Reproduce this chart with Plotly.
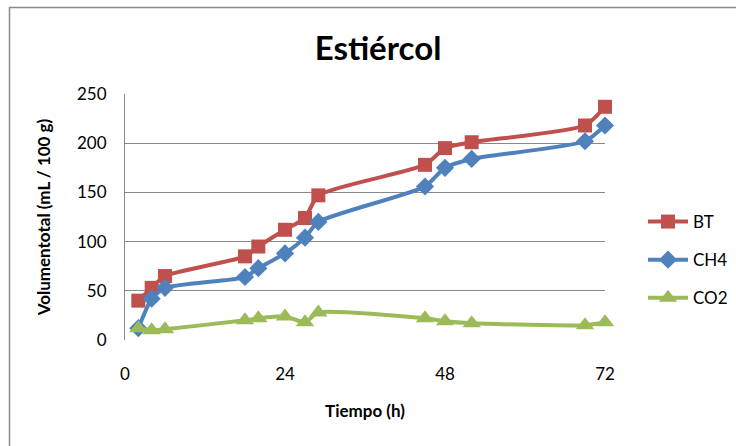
import plotly.graph_objects as go

# Data
tiempo = [2, 4, 6, 18, 20, 24, 27, 29, 45, 48, 52, 69, 72]
bt = [40, 53, 65, 85, 95, 112, 124, 147, 178, 195, 201, 218, 237]
ch4 = [12, 42, 53, 64, 73, 88, 104, 120, 156, 175, 184, 202, 218]
co2 = [12, 10, 11, 20, 22, 24, 18, 28, 22, 19, 17, 15, 18]

x_ticks = [0, 24, 48, 72]
y_ticks = [0, 50, 100, 150, 200, 250]

FONT = "Lato"
W, H = 736, 446
L, R, T, B = 125, 131, 94, 106

def px(x):
    return (x - L) / (W - L - R)

def py(y):
    return (H - B - y) / (H - T - B)

fig = go.Figure()
series = [
    ("BT", bt, "#C0504D", "square", 14),
    ("CH4", ch4, "#4F81BD", "diamond", 14),
    ("CO2", co2, "#9BBB59", "triangle-up", 16),
]
for i, (name, vals, col, sym, sz) in enumerate(series):
    fig.add_trace(go.Scatter(
        x=tiempo, y=vals, name=name, mode="lines+markers",
        line=dict(color=col, width=4, shape="spline", smoothing=0.6),
        marker=dict(symbol=sym, size=sz, color=col),
        legendgroup=f"g{i}", cliponaxis=False,
    ))

fig.update_layout(
    width=W, height=H,
    margin=dict(l=L, r=R, t=T, b=B, autoexpand=False),
    paper_bgcolor="white", plot_bgcolor="white",
    font=dict(family=FONT, size=17, color="black"),
    title=dict(text="<b>Estiércol</b>", x=378 / W, xref="container", xanchor="center",
               y=1 - 48 / H, yref="container", yanchor="middle",
               font=dict(family=FONT, size=33, color="black")),
    showlegend=True,
    legend=dict(x=px(643), y=py(204), xanchor="left", yanchor="top",
                font=dict(family=FONT, size=17, color="black"),
                tracegroupgap=13, bgcolor="rgba(0,0,0,0)", itemwidth=40),
    xaxis=dict(range=[0, 72], tickvals=x_ticks, showgrid=False, zeroline=False,
               showline=False, ticks="", ticklabelstandoff=22,
               title=dict(text="<b>Tiempo (h)</b>", standoff=22,
                          font=dict(family=FONT, size=17))),
    yaxis=dict(range=[0, 250], tickvals=y_ticks, showgrid=True, gridcolor="#898989",
               gridwidth=1, zeroline=False, showline=True, linecolor="#898989",
               linewidth=1, ticks="", ticklabelstandoff=14,
               title=dict(text="<b>Volumentotal (mL / 100 g)</b>", standoff=22,
                          font=dict(family=FONT, size=17))),
    shapes=[dict(type="rect", xref="paper", yref="paper",
                 x0=px(9.5), x1=px(738), y0=py(452), y1=py(7.5),
                 line=dict(color="#898989", width=1.5), layer="below")],
)

fig.write_html("out.html")
